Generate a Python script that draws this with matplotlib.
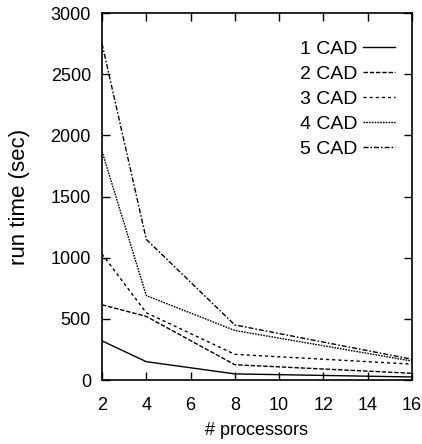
import matplotlib
matplotlib.use('Agg')
import matplotlib.pyplot as plt

procs = [2, 4, 8, 16]

cad1 = [320, 150, 50, 25]
cad2 = [615, 520, 125, 55]
cad3 = [1030, 550, 210, 130]
cad4 = [1870, 690, 405, 155]
cad5 = [2750, 1150, 450, 170]

labels = ['1 CAD', '2 CAD', '3 CAD', '4 CAD', '5 CAD']

plt.rcParams['font.family'] = ['Liberation Sans', 'DejaVu Sans']

fig = plt.figure(figsize=(4.22, 4.44), dpi=100)
ax = fig.add_axes([0.2417, 0.1441, 0.7346, 0.8266])

styles = ['-', (0, (3.2, 1.3)), (0, (2.2, 2.2)), (0, (1.2, 0.8)), (0, (3.6, 1.4, 1.2, 1.4))]
for ys, lab, ls in zip([cad1, cad2, cad3, cad4, cad5], labels, styles):
    ax.plot(procs, ys, color='black', lw=1.0, linestyle=ls, label=lab)

ax.set_xlim(2, 16)
ax.set_ylim(0, 3000)
ax.set_xticks(range(2, 17, 2))
ax.set_yticks(range(0, 3001, 500))
ax.tick_params(direction='in', length=6, width=1, top=True, right=True, labelsize=13)
ax.tick_params(axis='x', pad=12)
ax.tick_params(axis='y', pad=8)
for s in ax.spines.values():
    s.set_linewidth(1.2)

ax.set_xlabel('# processors', fontsize=13, labelpad=6)
ax.set_ylabel('run time (sec)', fontsize=16, labelpad=15)

ax.legend(loc='upper right', frameon=False, markerfirst=False,
          fontsize=14, handlelength=1.65, handletextpad=0.3,
          labelspacing=0.38, borderaxespad=0, borderpad=0,
          bbox_to_anchor=(0.945, 0.926))

fig.savefig('out.png', dpi=100)
